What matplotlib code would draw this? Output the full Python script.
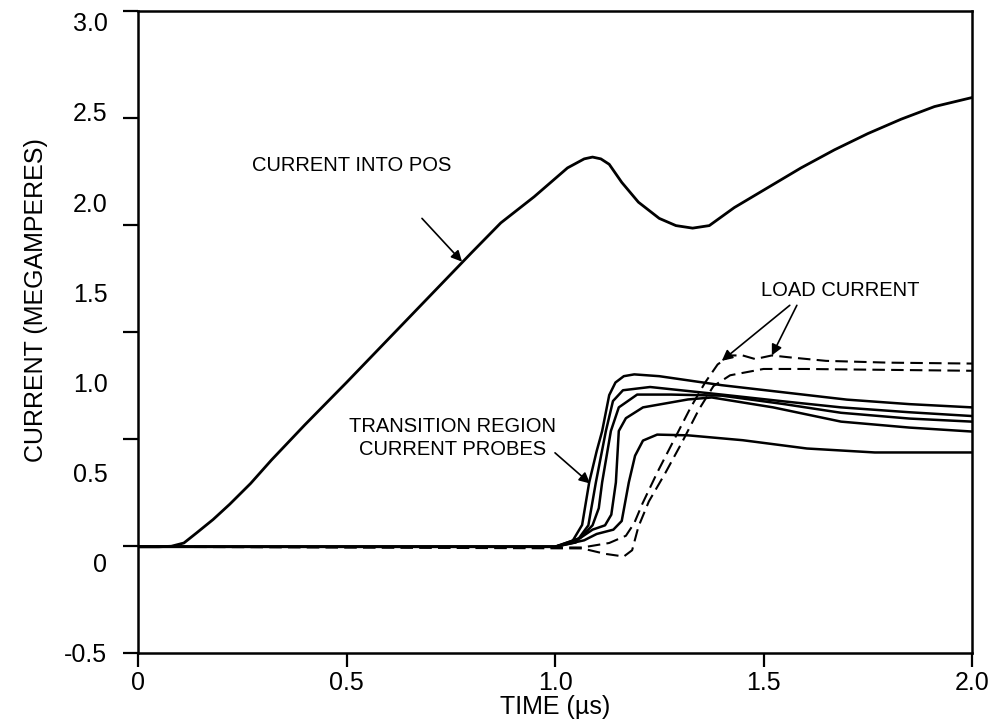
import numpy as np
import matplotlib
matplotlib.use("Agg")
import matplotlib.pyplot as plt

plt.rcParams["font.family"] = ["Liberation Sans", "DejaVu Sans"]

# time axis in microseconds, current in megamperes
pos_t = [0, 0.05, 0.08, 0.11, 0.14, 0.18, 0.22, 0.27, 0.32, 0.4, 0.5, 0.6, 0.7,
         0.8, 0.87, 0.95, 1.03, 1.07, 1.09, 1.11, 1.13, 1.16, 1.2, 1.25, 1.29,
         1.33, 1.37, 1.43, 1.51, 1.59, 1.67, 1.75, 1.83, 1.91, 2.0]
pos_i = [0.089, 0.089, 0.092, 0.11, 0.165, 0.24, 0.325, 0.44, 0.57, 0.765, 1.0,
         1.24, 1.48, 1.72, 1.885, 2.03, 2.19, 2.24, 2.25, 2.24, 2.21, 2.11, 2.0,
         1.91, 1.87, 1.856, 1.87, 1.97, 2.08, 2.19, 2.29, 2.38, 2.46, 2.53, 2.58]

# transition region current probes (solid)
p1_t = [0, 1.0, 1.04, 1.065, 1.082, 1.1, 1.113, 1.13, 1.145, 1.165, 1.19, 1.25,
        1.4, 1.55, 1.7, 1.85, 2.0]
p1_i = [0.089, 0.089, 0.113, 0.21, 0.446, 0.62, 0.73, 0.93, 1.0, 1.035, 1.045,
        1.035, 0.985, 0.945, 0.905, 0.88, 0.862]
p2_t = [0, 1.0, 1.05, 1.08, 1.098, 1.122, 1.139, 1.163, 1.228, 1.4, 1.55, 1.686, 1.85, 2.0]
p2_i = [0.089, 0.089, 0.113, 0.208, 0.446, 0.731, 0.897, 0.957, 0.975, 0.933,
        0.895, 0.862, 0.835, 0.814]
p3_t = [0, 1.0, 1.06, 1.09, 1.105, 1.113, 1.134, 1.153, 1.197, 1.278, 1.4, 1.55,
        1.686, 1.85, 2.0]
p3_i = [0.089, 0.089, 0.137, 0.208, 0.303, 0.446, 0.731, 0.862, 0.933, 0.933,
        0.927, 0.88, 0.832, 0.8, 0.783]
p4_t = [0, 1.0, 1.06, 1.09, 1.12, 1.135, 1.146, 1.153, 1.17, 1.211, 1.319, 1.376,
        1.523, 1.686, 1.85, 2.0]
p4_i = [0.089, 0.089, 0.137, 0.184, 0.208, 0.267, 0.446, 0.731, 0.802, 0.862,
        0.906, 0.917, 0.862, 0.783, 0.75, 0.728]
p5_t = [0, 1.0, 1.07, 1.1, 1.14, 1.16, 1.177, 1.192, 1.211, 1.245, 1.319, 1.45,
        1.604, 1.767, 2.0]
p5_i = [0.089, 0.089, 0.125, 0.16, 0.184, 0.232, 0.446, 0.594, 0.678, 0.711,
        0.707, 0.68, 0.634, 0.612, 0.612]

# load current (dashed)
la_t = [0, 1.065, 1.13, 1.17, 1.19, 1.21, 1.245, 1.285, 1.325, 1.36, 1.39, 1.42,
        1.45, 1.48, 1.52, 1.56, 1.65, 1.8, 2.0]
la_i = [0.089, 0.085, 0.11, 0.15, 0.22, 0.33, 0.5, 0.68, 0.86, 1.0, 1.1, 1.15,
        1.15, 1.13, 1.15, 1.14, 1.12, 1.11, 1.105]
lb_t = [0, 1.065, 1.12, 1.165, 1.185, 1.2, 1.225, 1.265, 1.305, 1.345, 1.38,
        1.42, 1.5, 1.6, 1.8, 2.0]
lb_i = [0.089, 0.08, 0.05, 0.035, 0.07, 0.2, 0.34, 0.5, 0.67, 0.85, 0.98, 1.04,
        1.075, 1.075, 1.07, 1.065]

x_ticks = [0, 0.5, 1.0, 1.5, 2.0]
x_labels = ["0", "0.5", "1.0", "1.5", "2.0"]
y_labels = ["-0.5", "0", "0.5", "1.0", "1.5", "2.0", "2.5", "3.0"]

fig = plt.figure(figsize=(9.89, 7.19), dpi=100)
ax = fig.add_axes([138 / 989, 1 - 653 / 719, 834 / 989, 642 / 719])

ax.plot(pos_t, pos_i, color="k", lw=2.0)
for t, i in [(p1_t, p1_i), (p2_t, p2_i), (p3_t, p3_i), (p4_t, p4_i), (p5_t, p5_i)]:
    ax.plot(t, i, color="k", lw=1.8)
for t, i in [(la_t, la_i), (lb_t, lb_i)]:
    ax.plot(t, i, color="k", lw=1.5, linestyle=(0, (6, 3)))

ax.set_xlim(0, 2.0)
ax.set_ylim(-0.5, 3.06)

# tick marks and scale labels do not line up in the source figure
ax.yaxis.remove_overlapping_locs = False
ax.set_yticks(np.linspace(-0.5, 3.06, 7))
ax.set_yticklabels([])
ax.set_yticks(np.arange(-0.5, 3.01, 0.5), minor=True)
ax.set_yticklabels(y_labels, minor=True)
ax.tick_params(axis="y", which="major", direction="out", length=11, width=1.6)
ax.tick_params(axis="y", which="minor", length=0, pad=22, labelsize=18)
ax.set_xticks(x_ticks)
ax.set_xticklabels(x_labels)
ax.tick_params(axis="x", direction="out", length=10, width=1.6, pad=3, labelsize=18)

for s in ax.spines.values():
    s.set_linewidth(1.8)

ax.set_xlabel("TIME (µs)", fontsize=18, labelpad=0)
ax.set_ylabel("CURRENT (MEGAMPERES)", fontsize=18)
ax.yaxis.set_label_coords(-0.108, 0.55)

arrow = dict(arrowstyle="-|>", color="k", lw=1.2, mutation_scale=16,
             shrinkA=0, shrinkB=0)
ax.text(0.513, 2.206, "CURRENT INTO POS", ha="center", va="center", fontsize=14.5)
ax.annotate("", xy=(0.777, 1.67), xytext=(0.681, 1.91), arrowprops=arrow)

ax.text(0.755, 0.694, "TRANSITION REGION\nCURRENT PROBES", ha="center",
        va="center", fontsize=14.5, linespacing=1.25)
ax.annotate("", xy=(1.084, 0.44), xytext=(1.0, 0.61), arrowprops=arrow)

ax.text(1.683, 1.51, "LOAD CURRENT", ha="center", va="center", fontsize=14.5)
ax.annotate("", xy=(1.40, 1.12), xytext=(1.563, 1.428), arrowprops=arrow)
ax.annotate("", xy=(1.52, 1.15), xytext=(1.58, 1.428), arrowprops=arrow)

fig.savefig("out.png", dpi=100)
